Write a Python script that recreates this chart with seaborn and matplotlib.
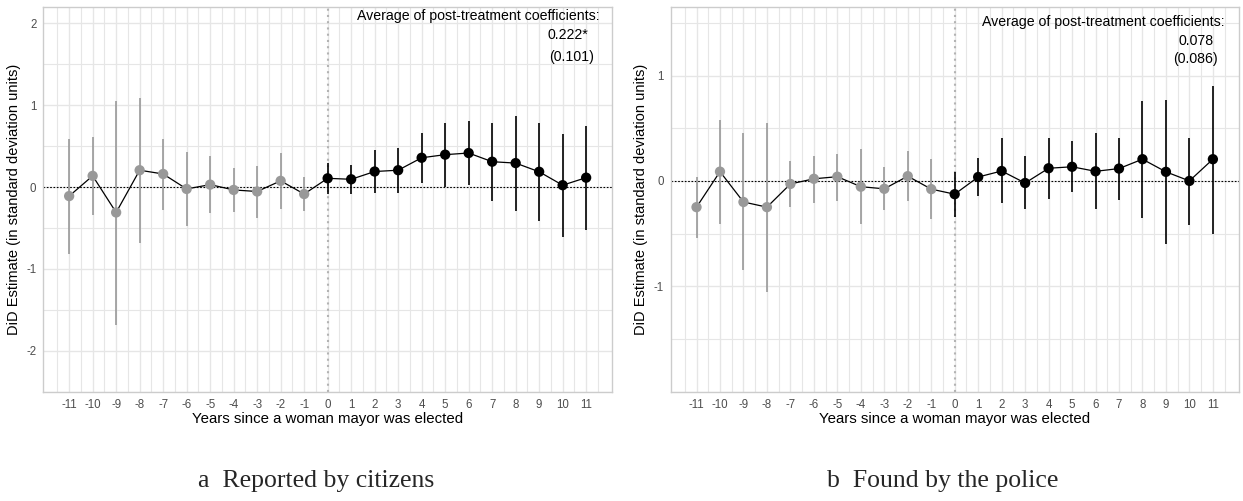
import numpy as np
import pandas as pd
import matplotlib
matplotlib.use("Agg")
import matplotlib.pyplot as plt
import seaborn as sns

# ---------------- data ----------------
years = list(range(-11, 12))

est_a = [-0.11, 0.137, -0.31, 0.206, 0.16, -0.023, 0.03, -0.035, -0.054, 0.076, -0.085,
         0.107, 0.095, 0.19, 0.206, 0.358, 0.396, 0.416, 0.31, 0.293, 0.187, 0.023, 0.115]
lo_a = [-0.82, -0.34, -1.68, -0.68, -0.28, -0.47, -0.32, -0.306, -0.375, -0.27, -0.295,
        -0.085, -0.085, -0.073, -0.07, 0.053, 0.003, 0.02, -0.17, -0.287, -0.41, -0.607, -0.52]
hi_a = [0.59, 0.61, 1.05, 1.09, 0.59, 0.43, 0.385, 0.236, 0.26, 0.42, 0.12,
        0.29, 0.27, 0.458, 0.477, 0.66, 0.78, 0.81, 0.78, 0.866, 0.78, 0.653, 0.75]

est_b = [-0.249, 0.088, -0.2, -0.249, -0.029, 0.02, 0.04, -0.055, -0.075, 0.045, -0.078,
         -0.126, 0.037, 0.094, -0.02, 0.12, 0.134, 0.091, 0.117, 0.206, 0.086, 0.0, 0.206]
lo_b = [-0.54, -0.405, -0.85, -1.05, -0.249, -0.206, -0.19, -0.41, -0.28, -0.195, -0.36,
        -0.343, -0.143, -0.214, -0.269, -0.17, -0.109, -0.263, -0.177, -0.351, -0.595, -0.415, -0.5]
hi_b = [0.037, 0.58, 0.45, 0.55, 0.19, 0.24, 0.26, 0.305, 0.13, 0.28, 0.21,
        0.088, 0.217, 0.403, 0.234, 0.403, 0.374, 0.45, 0.405, 0.754, 0.765, 0.408, 0.9]

avg_a = ["0.222*", "(0.101)"]
avg_b = ["0.078", "(0.086)"]
avg_title = "Average of post-treatment coefficients:"
captions = ["a  Reported by citizens", "b  Found by the police"]
xlabel = "Years since a woman mayor was elected"
ylabel = "DiD Estimate (in standard deviation units)"
ylim_a = 2.2
ylim_b = 1.65
yticks_a = [-2, -1, 0, 1, 2]
yticks_b = [-1, 0, 1]

# ---------------- style ----------------
sns.set_theme(style="whitegrid")
plt.rcParams["font.family"] = ["Liberation Sans", "DejaVu Sans"]

W, H = 1243, 501
fig = plt.figure(figsize=(W / 100, H / 100), dpi=100)

GREY = "#999999"
grid_c = "#e6e6e6"


def panel(rect, est, lo, hi, ylim, yticks, avg, ann_pos):
    ax = fig.add_axes(rect)
    df = pd.DataFrame({"year": years, "est": est, "lo": lo, "hi": hi})
    df["period"] = np.where(df["year"] < 0, "pre", "post")
    pal = {"pre": GREY, "post": "black"}
    # error bars
    for per, col in pal.items():
        d = df[df["period"] == per]
        ax.vlines(d["year"], d["lo"], d["hi"], color=col, lw=1.2, zorder=3)
    # reference lines
    ax.axhline(0, color="black", lw=0.8, ls=(0, (1.5, 1.5)), zorder=2)
    ax.axvline(0, color="#b3b3b3", lw=1.5, ls=(0, (1, 2)), zorder=2)
    sns.lineplot(data=df, x="year", y="est", color="black", lw=0.9, ax=ax,
                 zorder=4, legend=False)
    sns.scatterplot(data=df, x="year", y="est", hue="period", palette=pal,
                    s=55, edgecolor="none", linewidth=0, ax=ax, zorder=5, legend=False)
    ax.set_xlim(-12.1, 12.1)
    ax.set_ylim(-ylim, ylim)
    ax.set_xticks(years)
    ax.set_xticklabels([str(y) for y in years])
    ax.set_yticks(yticks)
    ax.set_yticklabels([str(y) for y in yticks])
    ax.set_xticks(np.arange(-11.5, 12, 1.0), minor=True)
    ax.set_yticks(np.arange(-ylim // 0.5 * 0.5, ylim + 0.01, 0.5), minor=True)
    ax.grid(True, which="major", color=grid_c, lw=1.0)
    ax.grid(True, which="minor", color=grid_c, lw=0.8)
    ax.set_axisbelow(True)
    for s in ax.spines.values():
        s.set_visible(True)
        s.set_color("#cccccc")
        s.set_linewidth(1.0)
    ax.tick_params(axis="both", which="major", length=2.5, width=0.6, color="#cccccc",
                   labelsize=8.3, labelcolor="#4d4d4d", pad=2.5)
    ax.tick_params(axis="both", which="minor", length=0)
    ax.set_xlabel(xlabel, fontsize=10.8, color="black", labelpad=1)
    ax.set_ylabel(ylabel, fontsize=10.5, color="black", labelpad=4)
    ax.set_facecolor("white")
    (x1, y1), (x2, y2), (x3, y3) = ann_pos
    ax.text(x1, y1, avg_title, ha="right", va="center", fontsize=10.2, color="black")
    ax.text(x2, y2, avg[0], ha="right", va="center", fontsize=10.2, color="black")
    ax.text(x3, y3, avg[1], ha="right", va="center", fontsize=10.2, color="black")
    return ax


ax1 = panel([43.3 / W, 1 - 391.7 / H, (612 - 43.3) / W, (391.7 - 7) / H],
            est_a, lo_a, hi_a, ylim_a, yticks_a, avg_a,
            [(11.57, 2.09), (11.1, 1.855), (11.32, 1.59)])
ax2 = panel([670.7 / W, 1 - 391.7 / H, (1238.7 - 670.7) / W, (391.7 - 7) / H],
            est_b, lo_b, hi_b, ylim_b, yticks_b, avg_b,
            [(11.5, 1.51), (11.02, 1.33), (11.19, 1.16)])

fig.text(316 / W, 1 - 481 / H, captions[0], ha="center", va="center",
         fontsize=18.5, family=["Liberation Serif", "DejaVu Serif"])
fig.text(943 / W, 1 - 481 / H, captions[1], ha="center", va="center",
         fontsize=18.5, family=["Liberation Serif", "DejaVu Serif"])

fig.savefig("out.png", dpi=100, facecolor="white")
